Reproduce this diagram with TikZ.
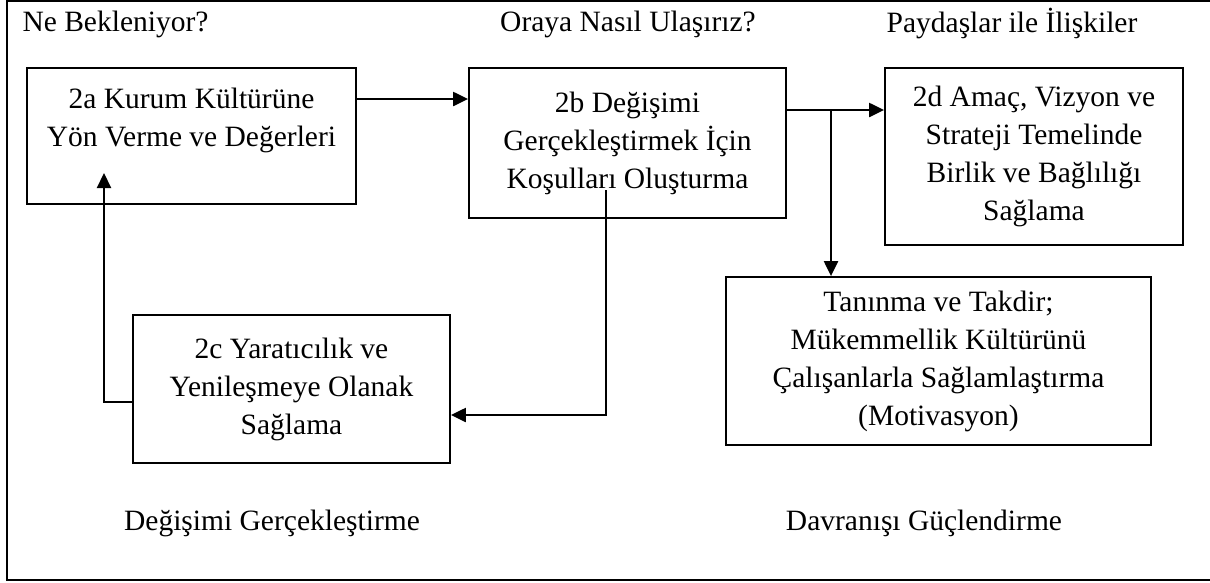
\documentclass[tikz,border=0pt]{standalone}
\usepackage{fontspec}
\setmainfont{Liberation Serif}
\usetikzlibrary{arrows.meta}
\tikzset{
  kutu/.style={draw, line width=1.8pt, align=center, inner sep=0pt},
  ok/.style={line width=2.2pt, -{Triangle[length=15pt,width=14pt]}}
}
\begin{document}
\begin{tikzpicture}[x=1pt,y=-1pt,font=\fontsize{29.5}{38}\selectfont]
            \useasboundingbox (0,0) rectangle (1210,582);
            \draw[line width=2.2pt] (1212,1) -- (7,1) -- (7,580) -- (1212,580);

            \node[anchor=west] (NB) at (19,24) {Ne Bekleniyor?};
            \node (ONU) at (628,24) {Oraya Nasıl Ulaşırız?};
            \node (PI) at (1012,24) {Paydaşlar ile İlişkiler};
            \node (DGr) at (272,523) {Değişimi Gerçekleştirme};
            \node (DGu) at (924,523) {Davranışı Güçlendirme};

            \node[kutu, minimum width=329pt, minimum height=136pt] (KK) at (191.5,136) {2a Kurum Kültürüne\\Yön Verme ve Değerleri\\~};
            \node[kutu, minimum width=317pt, minimum height=150pt] (DG) at (627.5,143) {2b Değişimi\\Gerçekleştirmek İçin\\Koşulları Oluşturma};
            \node[kutu, minimum width=298pt, minimum height=177pt] (AVS) at (1034,156.5) {2d Amaç, Vizyon ve\\Strateji Temelinde\\Birlik ve Bağlılığı\\Sağlama};
            \node[kutu, minimum width=425pt, minimum height=168pt] (TT) at (938.5,361) {Tanınma ve Takdir;\\Mükemmellik Kültürünü\\Çalışanlarla Sağlamlaştırma\\(Motivasyon)};
            \node[kutu, minimum width=317pt, minimum height=148pt] (YY) at (291.5,389) {2c Yaratıcılık ve\\Yenileşmeye Olanak\\Sağlama};

            \coordinate (a1) at (KK.east |- 0,99);
            \coordinate (b1) at (DG.east |- 0,110);
            \coordinate (b2) at (831,110);
            \coordinate (c1) at (606,190);
            \coordinate (d1) at (104,173);

            \draw[ok] (a1) to (DG.west |- a1);
            \draw[ok] (b1) to (AVS.west |- b1); \draw[ok] (b2) to (b2 |- TT.north);
            \draw[ok] (c1) |- (YY.east |- 0,415);
            \draw[ok] (YY.west |- 0,402) -| (d1);
        \end{tikzpicture}
\end{document}
